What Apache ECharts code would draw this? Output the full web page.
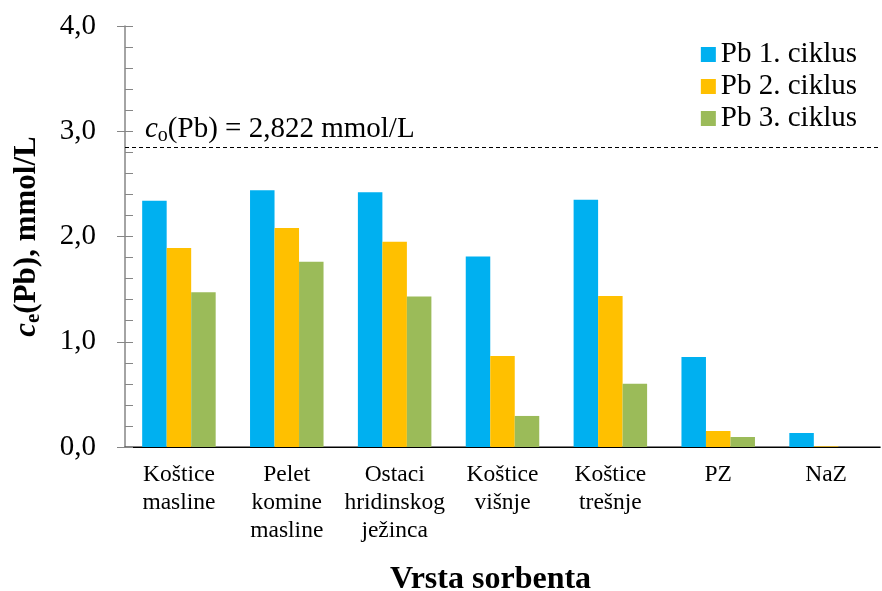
<!DOCTYPE html>
<html><head><meta charset="utf-8">
<script src="https://cdn.jsdelivr.net/npm/echarts@6/dist/echarts.min.js"></script>
<style>html,body{margin:0;padding:0;background:#fff}#c{width:882px;height:591px}</style>
</head><body><div id="c"></div>
<script>
const categories = ['Koštice\nmasline','Pelet\nkomine\nmasline','Ostaci\nhridinskog\nježinca','Koštice\nvišnje','Koštice\ntrešnje','PZ','NaZ'];
const seriesNames = ['Pb 1. ciklus','Pb 2. ciklus','Pb 3. ciklus'];
const cycle1 = [2.34, 2.44, 2.42, 1.81, 2.35, 0.855, 0.133];
const cycle2 = [1.89, 2.08, 1.95, 0.865, 1.435, 0.152, 0.006];
const cycle3 = [1.47, 1.76, 1.43, 0.295, 0.60, 0.095, 0.0];
const c0Line = 2.855;
const yTicks = [0,1,2,3,4];
const colors = ['#00B0F0','#FFC000','#9BBB59'];
const FF = '"Liberation Serif","Times New Roman",serif';

const chart = echarts.init(document.getElementById('c'));
const data = [cycle1, cycle2, cycle3];
const series = data.map((d,i)=>({
  name: seriesNames[i], type:'bar', data:d, barWidth:24.5, barGap:'0%',
  itemStyle:{color:colors[i]},
  markLine: i===0 ? {
    silent:true, symbol:'none',
    lineStyle:{color:'#000', type:[4,3], width:1},
    label:{
      position:'insideStartTop', distance:[20,1],
      formatter:'{i|c}{s|o}{n|(Pb) = 2,822 mmol/L}',
      rich:{
        i:{fontFamily:FF,fontSize:29,fontStyle:'italic',color:'#000'},
        s:{fontFamily:FF,fontSize:20,color:'#000',verticalAlign:'bottom',padding:[14,0,0,0]},
        n:{fontFamily:FF,fontSize:29,color:'#000'}
      }
    },
    data:[{yAxis:c0Line}]
  } : undefined
}));

chart.setOption({
  animation:false,
  textStyle:{fontFamily:FF},
  grid:{left:125,right:2,top:26,bottom:144,containLabel:false,outerBoundsMode:'none'},
  legend:{
    orient:'vertical', right:20, top:35, itemWidth:15, itemHeight:15, itemGap:3, itemTextGap:7,
    icon:'rect',
    textStyle:{fontFamily:FF,fontSize:29,color:'#000'},
    data:seriesNames
  },
  xAxis:[{
    type:'category', data:categories,
    axisLine:{lineStyle:{color:'#595959',width:1.5}},
    axisTick:{show:false},
    axisLabel:{fontFamily:FF,fontSize:23.5,color:'#000',lineHeight:28,margin:14,interval:0},
    name:'Vrsta sorbenta', nameLocation:'middle', nameGap:117,
    nameTextStyle:{fontFamily:FF,fontSize:32,fontWeight:'bold',color:'#000',padding:[0,24,0,0]}
  },{
    type:'category', position:'top', data:categories,
    axisLine:{lineStyle:{color:'#000',width:1.2}},
    axisTick:{show:false}, axisLabel:{show:false}
  }],
  yAxis:[{
    type:'value', min:0, max:4, interval:1,
    axisLine:{show:true,lineStyle:{color:'#868686',width:1.5}},
    axisTick:{show:true,inside:true,length:8,lineStyle:{color:'#868686'}},
    minorTick:{show:true,splitNumber:5,length:8,lineStyle:{color:'#868686'}},
    splitLine:{show:false},
    axisLabel:{fontFamily:FF,fontSize:29,color:'#000',margin:29,
      formatter:v=>yTicks.includes(v)?v.toFixed(1).replace('.',','):''},
    name:'{i|c}{s|e}{b|(Pb), mmol/L}', nameLocation:'middle', nameGap:81,
    nameTextStyle:{
      rich:{
        i:{fontFamily:FF,fontSize:31,fontWeight:'bold',fontStyle:'italic',color:'#000'},
        s:{fontFamily:FF,fontSize:21,fontWeight:'bold',color:'#000',verticalAlign:'bottom',padding:[14,0,0,0]},
        b:{fontFamily:FF,fontSize:31,fontWeight:'bold',color:'#000'}
      }
    }
  },{
    type:'value', min:0, max:4, interval:1, position:'left',
    axisLine:{show:false},
    axisTick:{show:true,inside:false,length:8,lineStyle:{color:'#868686'}},
    splitLine:{show:false}, axisLabel:{show:false}
  }],
  series
});
</script></body></html>
